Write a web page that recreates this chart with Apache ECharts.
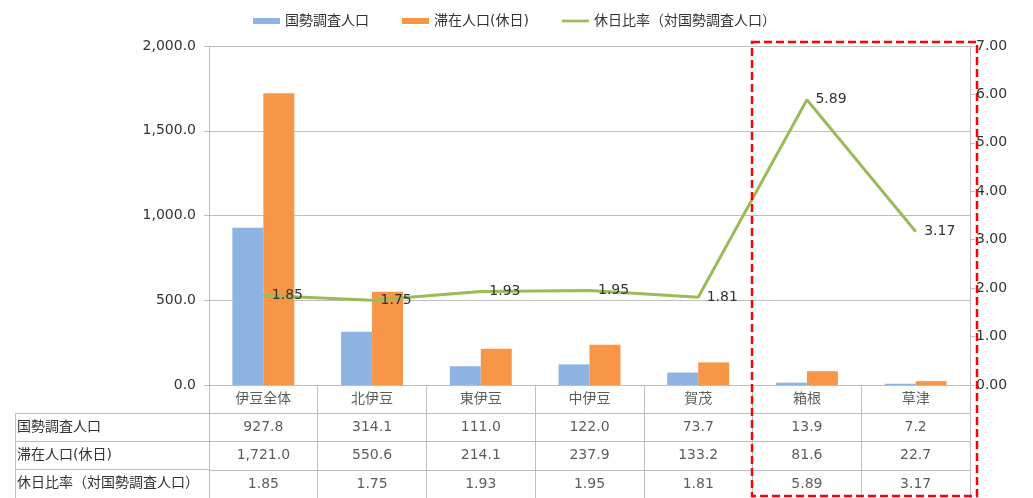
<!DOCTYPE html>
<html>
<head>
<meta charset="utf-8">
<script src="https://cdn.jsdelivr.net/npm/echarts@6/dist/echarts.min.js"></script>
<style>
    html, body { margin: 0; padding: 0; background: #fff; }
    #chart { width: 1033px; height: 498px; }
</style>
</head>
<body>
<div id="chart"></div>
<script>
// データ
const categories = ['伊豆全体', '北伊豆', '東伊豆', '中伊豆', '賀茂', '箱根', '草津'];
const censusPop = [927.8, 314.1, 111.0, 122.0, 73.7, 13.9, 7.2];
const stayPop = [1721.0, 550.6, 214.1, 237.9, 133.2, 81.6, 22.7];
const holidayRatio = [1.85, 1.75, 1.93, 1.95, 1.81, 5.89, 3.17];
const rowNames = ['国勢調査人口', '滞在人口(休日)', '休日比率（対国勢調査人口）'];

const FONT = '"DejaVu Sans", "Noto Sans CJK JP", sans-serif';
const TEXT = '#333333';
const LINE = '#bfbfbf';

const fmt1 = v => v.toLocaleString('en-US', { minimumFractionDigits: 1, maximumFractionDigits: 1 });
const fmt2 = v => v.toFixed(2);

// 表のセル (列, 行, 文字)
const tableCells = [];
categories.forEach((c, i) => {
    tableCells.push([i, 0, c]);
    tableCells.push([i, 1, fmt1(censusPop[i])]);
    tableCells.push([i, 2, fmt1(stayPop[i])]);
    tableCells.push([i, 3, fmt2(holidayRatio[i])]);
});

const chart = echarts.init(document.getElementById('chart'));

const option = {
    animation: false,
    textStyle: { fontFamily: FONT, color: TEXT },
    legend: {
        left: 248,
        top: 9,
        itemWidth: 27,
        itemHeight: 6,
        itemGap: 33,
        textStyle: { fontSize: 14, color: TEXT, fontFamily: FONT },
        data: [
            { name: rowNames[0], icon: 'rect' },
            { name: rowNames[1], icon: 'rect' },
            { name: rowNames[2], icon: 'path://M0 0H40V4H0Z' }
        ]
    },
    grid: [
        // グラフ本体
        { left: 209, right: 63, top: 46, bottom: 113 },
        // 表
        { left: 209, right: 63, top: 385, bottom: 0 },
        // 表の見出し列
        { left: 15, width: 194, top: 413, bottom: 0 }
    ],
    xAxis: [
        {
            type: 'category',
            gridIndex: 0,
            data: categories,
            axisLine: { lineStyle: { color: LINE } },
            axisTick: { show: false },
            axisLabel: { show: false }
        },
        {
            type: 'category',
            gridIndex: 1,
            data: categories,
            axisLine: { show: false },
            axisTick: { show: false },
            axisLabel: { show: false },
            splitLine: { show: true, lineStyle: { color: LINE } }
        },
        {
            type: 'category',
            gridIndex: 2,
            data: [''],
            axisLine: { show: false },
            axisTick: { show: false },
            axisLabel: { show: false },
            splitLine: { show: true, lineStyle: { color: LINE } }
        }
    ],
    yAxis: [
        {
            type: 'value',
            gridIndex: 0,
            min: 0,
            max: 2000,
            interval: 500,
            axisLine: { show: true, lineStyle: { color: LINE } },
            axisTick: { show: true, length: 5, lineStyle: { color: LINE } },
            axisLabel: { fontSize: 14, color: TEXT, margin: 13, formatter: v => fmt1(v) },
            splitLine: { lineStyle: { color: LINE } }
        },
        {
            type: 'value',
            gridIndex: 0,
            position: 'right',
            min: 0,
            max: 7,
            interval: 1,
            axisLine: { show: true, lineStyle: { color: LINE } },
            axisTick: { show: true, length: 5, lineStyle: { color: LINE } },
            axisLabel: { fontSize: 14, color: TEXT, margin: 6, formatter: v => fmt2(v) },
            splitLine: { show: false }
        },
        {
            type: 'category',
            gridIndex: 1,
            inverse: true,
            data: ['', ...rowNames],
            axisLine: { show: false },
            axisTick: { show: false },
            axisLabel: { show: false },
            splitLine: { show: true, lineStyle: { color: LINE } }
        },
        {
            type: 'category',
            gridIndex: 2,
            inverse: true,
            data: rowNames,
            axisLine: { show: false },
            axisTick: { show: false },
            axisLabel: { inside: true, align: 'left', margin: 2, fontSize: 14, color: TEXT },
            splitLine: { show: true, lineStyle: { color: LINE } }
        }
    ],
    series: [
        {
            name: rowNames[0],
            type: 'bar',
            xAxisIndex: 0,
            yAxisIndex: 0,
            barGap: 0,
            barCategoryGap: '43%',
            itemStyle: { color: '#8eb4e3' },
            data: censusPop
        },
        {
            name: rowNames[1],
            type: 'bar',
            xAxisIndex: 0,
            yAxisIndex: 0,
            barGap: 0,
            barCategoryGap: '43%',
            itemStyle: { color: '#f79646' },
            data: stayPop
        },
        {
            name: rowNames[2],
            type: 'line',
            xAxisIndex: 0,
            yAxisIndex: 1,
            symbol: 'circle',
            symbolSize: 1,
            itemStyle: { color: '#9bbb59' },
            lineStyle: { color: '#9bbb59', width: 3 },
            label: {
                show: true,
                position: 'right',
                distance: 8,
                fontSize: 14,
                color: TEXT,
                formatter: p => fmt2(p.value)
            },
            data: holidayRatio,
            z: 5
        },
        {
            // 表の中身
            type: 'scatter',
            xAxisIndex: 1,
            yAxisIndex: 2,
            symbolSize: 0,
            silent: true,
            label: {
                show: true,
                position: 'inside',
                fontSize: 14,
                color: TEXT,
                formatter: p => p.value[2]
            },
            data: tableCells
        }
    ],
    graphic: [
        {
            type: 'rect',
            shape: { x: 752, y: 42, width: 225, height: 454 },
            style: { fill: 'none', stroke: '#ff0000', lineWidth: 2.5, lineDash: [8, 4] },
            z: 100
        }
    ]
};

chart.setOption(option);
</script>
</body>
</html>
